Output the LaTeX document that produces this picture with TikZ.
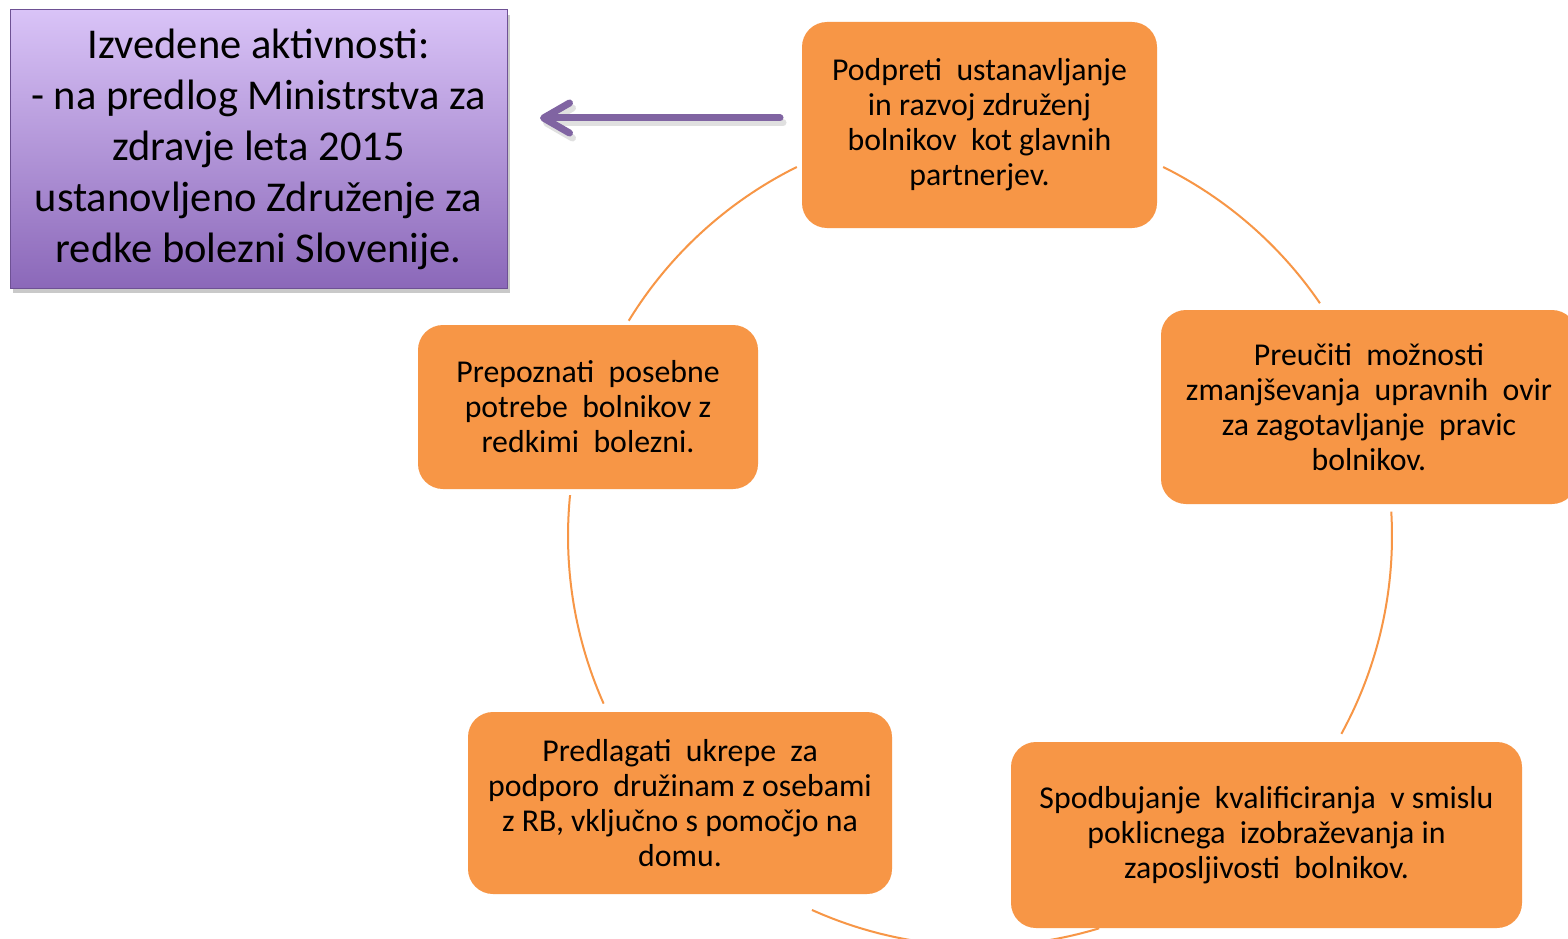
\documentclass[tikz,border=0pt]{standalone}
\usepackage{fontspec}
\setmainfont{Carlito}
\usetikzlibrary{arrows.meta,shadows}
\definecolor{boxorange}{HTML}{F79646}
\definecolor{arrowpurple}{HTML}{8064A2}
\definecolor{purptop}{HTML}{D9C3F7}
\definecolor{purpbot}{HTML}{8B68B9}
\definecolor{purpedge}{HTML}{6E5194}
\tikzset{
  stepbox/.style={rounded corners=25pt, fill=boxorange, draw=none, inner sep=0pt,
    align=center, font=\fontsize{31.8}{35}\selectfont},
  resultbox/.style={fill, top color=purptop, bottom color=purpbot, draw=purpedge, line width=1pt,
    inner sep=0pt, align=center, font=\fontsize{42.5}{51}\selectfont,
    drop shadow={shadow xshift=3pt, shadow yshift=-5pt, opacity=0.35, fill=black!60}},
  cyclearc/.style={draw=boxorange, line width=2pt},
  bigarrow/.style={draw=arrowpurple, line width=7pt, line cap=round,
    -{Straight Barb[length=26pt,width=30pt,round]}},
}
\begin{document}
\begin{tikzpicture}[x=1pt,y=1pt]
\clip (0,0) rectangle (1568,-939);
\fill[white] (0,0) rectangle (1568,-939);
\coordinate (c) at (980,-536);
% arcs
\draw[cyclearc] (c) ++(116.4:412) arc[start angle=116.4, end angle=148.5, radius=412];
\draw[cyclearc] (c) ++(63.6:412) arc[start angle=63.6, end angle=34.4, radius=412];
\draw[cyclearc] (c) ++(3.4:412) arc[start angle=3.4, end angle=-28.7, radius=412];
\draw[cyclearc] (c) ++(174.3:412) arc[start angle=174.3, end angle=204, radius=412];
\draw[cyclearc] (c) ++(245.8:410) arc[start angle=245.8, end angle=286.9, radius=410];
% boxes
\node[stepbox, minimum width=355pt, minimum height=206pt] (top) at (979.5,-125)
  {Podpreti \ ustanavljanje\\in razvoj združenj\\bolnikov \ kot glavnih\\partnerjev.};
\node[stepbox, minimum width=416pt, minimum height=194pt] (right) at (1369,-407)
  {Preučiti \ možnosti\\zmanjševanja \ upravnih \ ovir\\za zagotavljanje \ pravic\\bolnikov.};
\node[stepbox, minimum width=511pt, minimum height=186pt] (bright) at (1266.5,-835)
  {Spodbujanje \ kvalificiranja \ v smislu\\poklicnega \ izobraževanja in\\zaposljivosti \ bolnikov.};
\node[stepbox, minimum width=424pt, minimum height=182pt] (bleft) at (680,-803)
  {Predlagati \ ukrepe \ za\\podporo \ družinam z osebami\\z RB, vključno s pomočjo na\\domu.};
\node[stepbox, minimum width=340pt, minimum height=164pt] (left) at (588,-407)
  {Prepoznati \ posebne\\potrebe \ bolnikov z\\redkimi \ bolezni.};
% result box
\node[resultbox, minimum width=497pt, minimum height=278pt] (result) at (258.5,-149)
  {Izvedene aktivnosti:\\- na predlog Ministrstva za\\zdravje leta 2015\\ustanovljeno Združenje za\\redke bolezni Slovenije.};
% arrow
\coordinate (aS) at (780,-118);
\coordinate (aE) at (540,-118);
\draw[draw=black!20, line width=7pt, line cap=round, -{Straight Barb[length=26pt,width=30pt,round]}, opacity=0.6]
  ([shift={(3pt,-5pt)}]aS) -- ([shift={(3pt,-5pt)}]aE);
\draw[bigarrow] (aS) -- (aE);
\end{tikzpicture}
\end{document}
